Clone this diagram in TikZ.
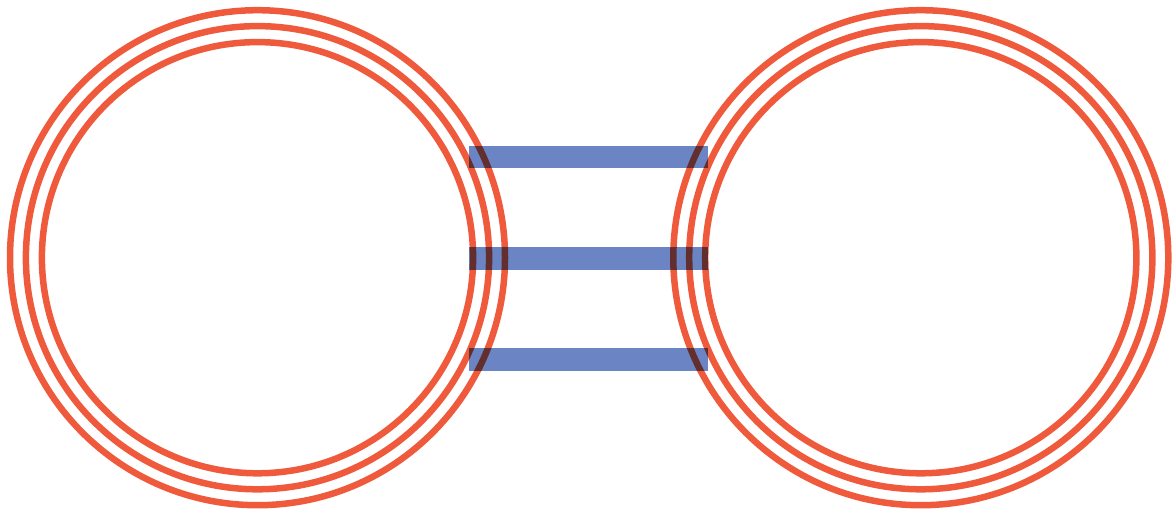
\documentclass[tikz,border=0pt]{standalone}
\usetikzlibrary{positioning}
\definecolor{ringred}{RGB}{240,90,60}
\definecolor{barblue}{RGB}{106,132,196}
\tikzset{
  ring/.style={circle, draw=ringred, line width=6.5pt, inner sep=0pt, outer sep=0pt, minimum size=#1},
  bar/.style={rectangle, fill=barblue, draw=none, inner sep=0pt, outer sep=0pt, minimum width=239pt, minimum height=22.5pt, blend mode=multiply}
}
\begin{document}
\begin{tikzpicture}[x=1pt,y=-1pt]
\useasboundingbox (0,0) rectangle (1176,514);
% left rings
\node[ring=495pt] (L1) at (257.5,257.7) {};
\node[ring=463.2pt] (L2) at (257.5,257.7) {};
\node[ring=431.2pt] (L3) at (257.5,257.7) {};
% right rings
\node[ring=495pt] (R1) at (920.8,257.7) {};
\node[ring=463.2pt] (R2) at (920.8,257.7) {};
\node[ring=431.2pt] (R3) at (920.8,257.7) {};
% bars
\node[bar] (B1) at (588.8,157) {};
\node[bar] (B2) at (588.8,258.3) {};
\node[bar] (B3) at (588.8,359.5) {};
\end{tikzpicture}
\end{document}
